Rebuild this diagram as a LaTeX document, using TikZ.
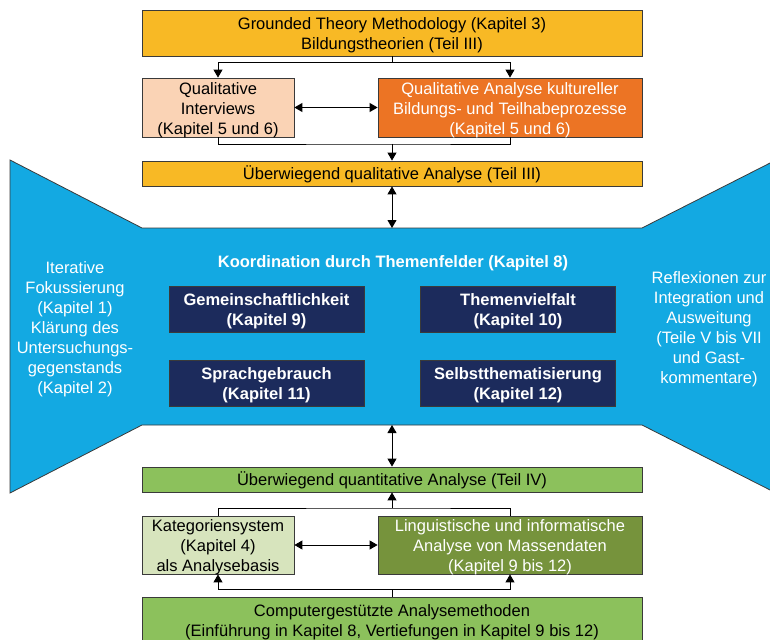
\documentclass[tikz,border=0pt]{standalone}
\usepackage{fontspec}
\setmainfont{Liberation Sans}
\usetikzlibrary{arrows.meta}
\definecolor{gold}{HTML}{F8B925}
\definecolor{peach}{HTML}{FAD3B5}
\definecolor{orangebox}{HTML}{EC7424}
\definecolor{bluearea}{HTML}{13A9E2}
\definecolor{navy}{HTML}{1C2B5C}
\definecolor{greenbox}{HTML}{8CC15C}
\definecolor{lightgreen}{HTML}{D7E4BD}
\definecolor{darkgreen}{HTML}{76933C}
\definecolor{linegray}{HTML}{3A3A3A}
\begin{document}
\begin{tikzpicture}[x=1pt,y=-1pt,
  font=\fontsize{16.5}{20}\selectfont,
  boxbase/.style={draw=linegray, line width=0.8pt, inner sep=0pt},
  lbl/.style={align=center, inner sep=0pt},
  navybox/.style={boxbase, fill=navy, minimum width=195pt, minimum height=46pt},
  navytext/.style={lbl, text=white, font=\fontsize{16.5}{20}\selectfont\bfseries},
  whitetext/.style={text=white, align=center, inner sep=0pt},
  conn/.style={draw=black, line width=0.9pt},
  tip/.style={-{Triangle[length=8pt,width=9pt]}},
  dtip/.style={{Triangle[length=8pt,width=9pt]}-{Triangle[length=8pt,width=9pt]}}
]
\useasboundingbox (0,0) rectangle (770,639);
% blue area
\path[fill=bluearea, draw=linegray, line width=0.8pt]
  (10,160) -- (142,228) -- (642,228) -- (776,160) -- (776,493) -- (642,425) -- (142,425) -- (10,493) -- cycle;
\coordinate (bt) at (392,228);
\coordinate (bb) at (392,425);

% top part
\node[boxbase, fill=gold, minimum width=500pt, minimum height=46pt] (gtm) at (392,33) {};
\node[lbl] (gtmtext) at ([yshift=-2.5pt]gtm.center)
  {Grounded Theory Methodology (Kapitel 3)\\Bildungstheorien (Teil III)};
\node[boxbase, fill=peach, minimum width=152pt, minimum height=59pt] (qi) at (218,107.5) {};
\node[lbl] (qitext) at ([yshift=-2.5pt]qi.center)
  {Qualitative\\Interviews\\(Kapitel 5 und 6)};
\node[boxbase, fill=orangebox, minimum width=264pt, minimum height=59pt] (qa) at (510,107.5) {};
\node[lbl, text=white] (qatext) at ([yshift=-2.5pt]qa.center)
  {Qualitative Analyse kultureller\\Bildungs- und Teilhabeprozesse\\(Kapitel 5 und 6)};
\node[boxbase, fill=gold, minimum width=500pt, minimum height=25pt] (qual) at (392,173.5) {};
\node[lbl] (qualtext) at ([yshift=-1pt]qual.center)
  {Überwiegend qualitative Analyse (Teil III)};

% blue contents
\node[whitetext, font=\fontsize{16.5}{20}\selectfont\bfseries] (koord) at (393,263)
  {Koordination durch Themenfelder (Kapitel 8)};
\node[navybox] (gem) at (266.5,309) {};
\node[navytext] (gemtext) at ([yshift=-2pt]gem.center) {Gemeinschaftlichkeit\\(Kapitel 9)};
\node[navybox] (them) at (518,309) {};
\node[navytext] (themtext) at ([yshift=-2pt]them.center) {Themenvielfalt\\(Kapitel 10)};
\node[navybox] (spr) at (266.5,383.5) {};
\node[navytext] (sprtext) at ([yshift=-2pt]spr.center) {Sprachgebrauch\\(Kapitel 11)};
\node[navybox] (selbst) at (518,383.5) {};
\node[navytext] (selbsttext) at ([yshift=-2pt]selbst.center) {Selbstthematisierung\\(Kapitel 12)};
\node[whitetext] (lefttxt) at (75,329)
  {Iterative\\Fokussierung\\(Kapitel 1)\\Klärung des\\Untersuchungs-\\gegenstands\\(Kapitel 2)};
\node[whitetext] (righttxt) at (709,329)
  {Reflexionen zur\\Integration und\\Ausweitung\\(Teile V bis VII\\und Gast-\\kommentare)};

% bottom part
\node[boxbase, fill=greenbox, minimum width=500pt, minimum height=25pt] (quant) at (392,479.5) {};
\node[lbl] (quanttext) at ([yshift=-0.5pt]quant.center)
  {Überwiegend quantitative Analyse (Teil IV)};
\node[boxbase, fill=lightgreen, minimum width=152pt, minimum height=58pt] (kat) at (218,545) {};
\node[lbl] (kattext) at ([yshift=-2pt]kat.center)
  {Kategoriensystem\\(Kapitel 4)\\als Analysebasis};
\node[boxbase, fill=darkgreen, minimum width=264pt, minimum height=58pt] (ling) at (510,545) {};
\node[lbl, text=white] (lingtext) at ([yshift=-2pt]ling.center)
  {Linguistische und informatische\\Analyse von Massendaten\\(Kapitel 9 bis 12)};
\node[boxbase, fill=greenbox, minimum width=500pt, minimum height=44pt] (comp) at (392,619) {};
\node[lbl] (comptext) at ([yshift=-3pt]comp.center)
  {Computergestützte Analysemethoden\\(Einführung in Kapitel 8, Vertiefungen in Kapitel 9 bis 12)};

% connectors top
\coordinate (j1) at (392,62);
\draw[conn] (gtm.south) -- (j1);
\draw[conn, tip] (j1) -| (qi.north);
\draw[conn, tip] (j1) -| (qa.north);
\draw[conn, dtip] (qi.east) -- (qa.west);
\coordinate (j2) at (392,144);
\draw[conn] (qi.south) |- (j2) -| (qa.south);
\draw[conn, tip] (j2) -- (qual.north);
\draw[conn, dtip] (qual.south) -- (bt);

% connectors bottom
\draw[conn, dtip] (bb) -- (quant.north);
\coordinate (j3) at (392,508);
\draw[conn] (kat.north) |- (j3) -| (ling.north);
\draw[conn, tip] (j3) -- (quant.south);
\draw[conn, dtip] (kat.east) -- (ling.west);
\coordinate (j4) at (392,589);
\draw[conn] (comp.north) -- (j4);
\draw[conn, tip] (j4) -| (kat.south);
\draw[conn, tip] (j4) -| (ling.south);
\end{tikzpicture}
\end{document}
